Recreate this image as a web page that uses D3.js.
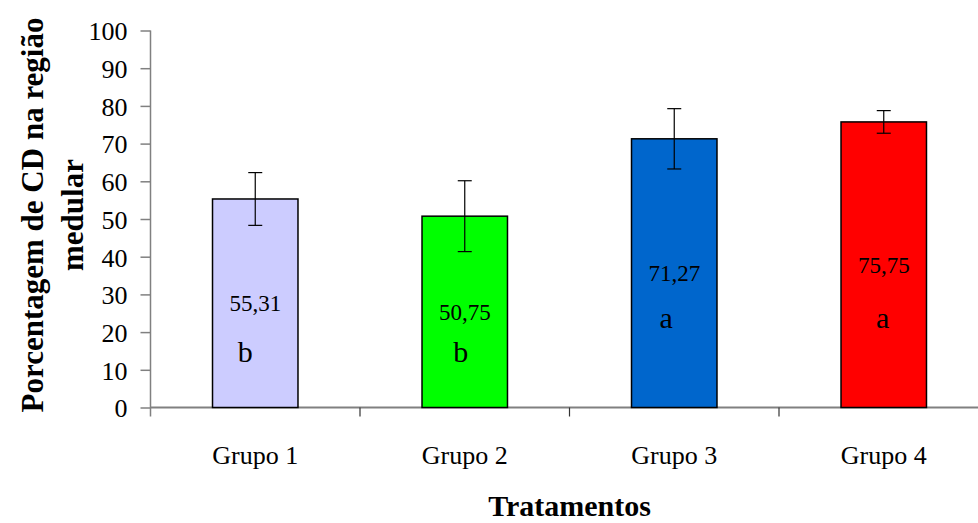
<!DOCTYPE html>
<html>
<head>
<meta charset="utf-8">
<script src="https://cdn.jsdelivr.net/npm/d3@7/dist/d3.min.js"></script>
<style>
  html, body { margin: 0; padding: 0; background: #fff; }
  svg { display: block; }
  text { font-family: "Liberation Serif", "Times New Roman", serif; fill: #000; }
</style>
</head>
<body>
<svg id="chart" width="978" height="523"></svg>
<script>
// Percentage of CD in the medullary region, per treatment group
const groups = ["Grupo 1", "Grupo 2", "Grupo 3", "Grupo 4"];
const means = [55.31, 50.75, 71.27, 75.75];
const errors = [7.0, 9.4, 8.0, 3.0];
const letters = ["b", "b", "a", "a"];
const fills = ["#CCCCFF", "#00FF00", "#0066CC", "#FF0000"];
const yTicks = [0, 10, 20, 30, 40, 50, 60, 70, 80, 90, 100];

// Placement of the significance letters inside each bar (value units, px nudge)
const letterLevel = [12, 12, 21, 21];
const letterNudge = [-10, -4, -8, -1];

const serif = '"Liberation Serif", "Times New Roman", serif';
const fmt = v => v.toFixed(2).replace(".", ",");

const svg = d3.select("#chart");
const axisColor = "#808080";

const y = d3.scaleLinear().domain([0, 100]).range([407.5, 30.5]);
const x = d3.scaleBand().domain(groups).range([150.5, 988.5])
  .paddingInner(0.592).paddingOuter(0.296);
const step = x.step();

// Y axis
const yAxis = svg.append("g")
  .attr("transform", "translate(150.5,0)")
  .call(d3.axisLeft(y).tickValues(yTicks).tickSize(10).tickPadding(13).tickFormat(d3.format("d")))
  .attr("font-family", serif)
  .attr("font-size", 26);
yAxis.select(".domain").remove();
yAxis.selectAll(".tick line").attr("stroke", axisColor).attr("stroke-width", 1.5);
yAxis.selectAll(".tick text").attr("fill", "#000").attr("dy", "0.36em");

svg.append("line")
  .attr("x1", 150.5).attr("x2", 150.5)
  .attr("y1", y(100)).attr("y2", y(0) + 9)
  .attr("stroke", axisColor).attr("stroke-width", 1.5);

// X axis baseline and category separators
svg.append("line")
  .attr("x1", 150.5).attr("x2", 988.5)
  .attr("y1", y(0)).attr("y2", y(0))
  .attr("stroke", axisColor).attr("stroke-width", 2);

svg.append("g").selectAll("line")
  .data(d3.range(1, groups.length + 1))
  .join("line")
  .attr("x1", i => 150.5 + i * step).attr("x2", i => 150.5 + i * step)
  .attr("y1", y(0)).attr("y2", y(0) + 9)
  .attr("stroke", "#333").attr("stroke-width", 1.2);

svg.append("g").selectAll("text")
  .data(groups)
  .join("text")
  .attr("x", d => x(d) + x.bandwidth() / 2)
  .attr("y", 464)
  .attr("text-anchor", "middle")
  .attr("font-family", serif)
  .attr("font-size", 26)
  .text(d => d);

// Bars
const rows = groups.map((g, i) => ({ g, m: means[i], e: errors[i], l: letters[i], c: fills[i], i }));

svg.append("g").selectAll("rect")
  .data(rows)
  .join("rect")
  .attr("x", d => x(d.g))
  .attr("y", d => y(d.m))
  .attr("width", x.bandwidth())
  .attr("height", d => y(0) - y(d.m))
  .attr("fill", d => d.c)
  .attr("stroke", "#000")
  .attr("stroke-width", 1.5);

// Error bars
const eb = svg.append("g").attr("stroke", "#000").attr("stroke-width", 1.2);
rows.forEach(d => {
  const cx = x(d.g) + x.bandwidth() / 2;
  eb.append("line").attr("x1", cx).attr("x2", cx).attr("y1", y(d.m + d.e)).attr("y2", y(d.m - d.e));
  eb.append("line").attr("x1", cx - 7).attr("x2", cx + 7).attr("y1", y(d.m + d.e)).attr("y2", y(d.m + d.e));
  eb.append("line").attr("x1", cx - 7).attr("x2", cx + 7).attr("y1", y(d.m - d.e)).attr("y2", y(d.m - d.e));
});

// Value labels and significance letters
svg.append("g").selectAll("text")
  .data(rows)
  .join("text")
  .attr("x", d => x(d.g) + x.bandwidth() / 2)
  .attr("y", d => y(d.m / 2))
  .attr("dy", "0.35em")
  .attr("text-anchor", "middle")
  .attr("font-family", serif)
  .attr("font-size", 23)
  .text(d => fmt(d.m));

svg.append("g").selectAll("text")
  .data(rows)
  .join("text")
  .attr("x", d => x(d.g) + x.bandwidth() / 2 + letterNudge[d.i])
  .attr("y", d => y(letterLevel[d.i]))
  .attr("text-anchor", "middle")
  .attr("font-family", serif)
  .attr("font-size", 30)
  .text(d => d.l);

// Axis titles
svg.append("text")
  .attr("x", 569.5).attr("y", 516)
  .attr("text-anchor", "middle")
  .attr("font-family", serif)
  .attr("font-size", 30).attr("font-weight", "bold")
  .text("Tratamentos");

const yt = svg.append("text")
  .attr("transform", "translate(0,215) rotate(-90)")
  .attr("text-anchor", "middle")
  .attr("font-family", serif)
  .attr("font-size", 31).attr("font-weight", "bold");
yt.append("tspan").attr("x", 0).attr("y", 43).text("Porcentagem de CD na região");
yt.append("tspan").attr("x", 0).attr("y", 83).text("medular");
</script>
</body>
</html>
